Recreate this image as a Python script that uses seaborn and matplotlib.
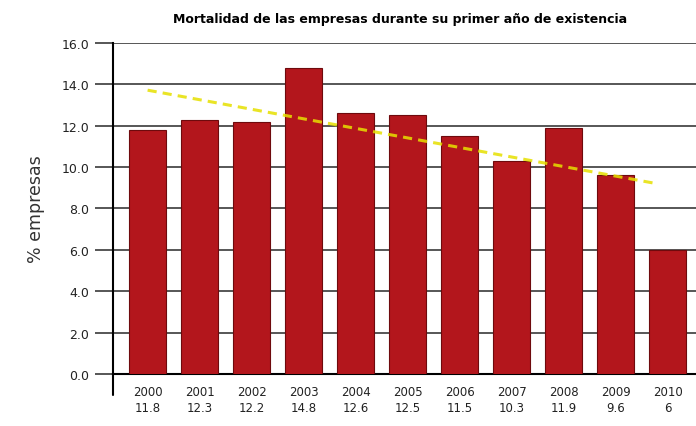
import matplotlib
matplotlib.use("Agg")
import matplotlib.pyplot as plt
import numpy as np
import pandas as pd
import seaborn as sns

# datos
years = ["2000", "2001", "2002", "2003", "2004", "2005", "2006", "2007", "2008", "2009", "2010"]
mortality = [11.8, 12.3, 12.2, 14.8, 12.6, 12.5, 11.5, 10.3, 11.9, 9.6, 6.0]
value_labels = ["11.8", "12.3", "12.2", "14.8", "12.6", "12.5", "11.5", "10.3", "11.9", "9.6", "6"]
trend_x = [0, 9.8]

df = pd.DataFrame({"year": years, "pct": mortality})

sns.set_style("white")
plt.rcParams["font.family"] = ["DejaVu Sans"]

fig = plt.figure(figsize=(6.96, 4.27), dpi=100)
ax = fig.add_axes([0.162, 0.122, 0.838, 0.775])

sns.barplot(data=df, x="year", y="pct", color="#b3161c", width=0.71,
            saturation=1, edgecolor="#6e0a0d", linewidth=0.8, ax=ax, zorder=3)

# linea de tendencia (regresion lineal)
coef = np.polyfit(np.arange(len(mortality)), mortality, 1)
tx = np.array(trend_x)
ax.plot(tx, np.polyval(coef, tx), color="#e6e000", lw=2.2, ls=(0, (3, 2)),
        alpha=0.85, zorder=4)

ax.set_ylim(0, 16)
ax.set_xlim(-0.67, 10.54)
ax.set_yticks(np.arange(0, 16.1, 2))
ax.set_yticklabels([f"{v:.1f}" for v in np.arange(0, 16.1, 2)], fontsize=9,
                   color="#222222")
ax.yaxis.grid(True, color="#3a3a3a", lw=1.2, zorder=0)
ax.tick_params(axis="y", left=True, length=13, width=1.2, color="#3a3a3a", pad=4)
ax.set_xticks(range(len(years)))
ax.set_xticklabels([f"{y}\n{v}" for y, v in zip(years, value_labels)], fontsize=8.5,
                   linespacing=1.3, color="#222222")
ax.tick_params(axis="x", length=0, pad=8)
ax.set_xlabel("")
ax.set_ylabel("% empresas", fontsize=12.5, color="#333333", labelpad=12)

for s in ["top", "right"]:
    ax.spines[s].set_visible(False)
ax.spines["left"].set_color("black")
ax.spines["left"].set_linewidth(1.5)
ax.spines["bottom"].set_color("black")
ax.spines["bottom"].set_linewidth(1.5)
ax.plot([0, 0], [0, -1.0], transform=ax.get_yaxis_transform(), color="black",
        lw=1.5, clip_on=False)

fig.text(0.575, 0.955, "Mortalidad de las empresas durante su primer año de existencia",
         ha="center", va="center", fontsize=9, fontweight="bold", color="black")

fig.savefig("out.png", dpi=100)
